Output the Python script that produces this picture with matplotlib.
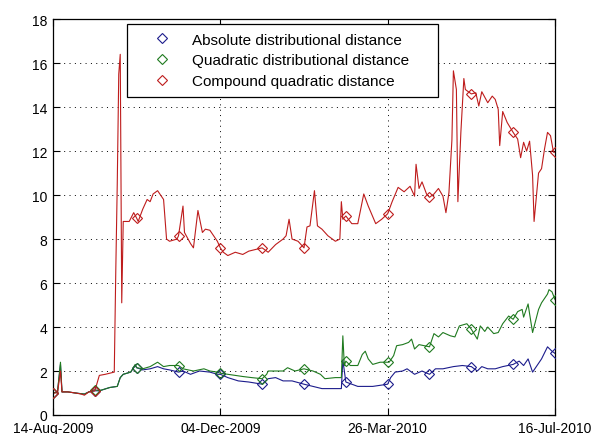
import numpy as np
import matplotlib
matplotlib.use('Agg')
import matplotlib.pyplot as plt

plt.rcParams['font.family'] = ['Liberation Sans', 'DejaVu Sans']

# days counted from 14-Aug-2009
tick_days = [0, 112, 224, 336]
tick_labels = ['14-Aug-2009', '04-Dec-2009', '26-Mar-2010', '16-Jul-2010']
marker_days = np.arange(0, 337, 28)

abs_days = [0, 3, 5, 6, 10, 15, 21, 24, 28, 31, 38, 43, 45, 47, 52, 55, 56, 60, 65, 70,
            74, 78, 84, 87, 92, 98, 105, 110, 112, 117, 124, 131, 140, 144, 149, 154, 160,
            168, 174, 180, 187, 193, 194, 196, 204, 214, 224, 226, 229, 234, 237, 242, 247,
            252, 256, 261, 268, 274, 280, 284, 287, 291, 296, 301, 308, 312, 315, 318, 321,
            324, 327, 331, 334, 336]
abs_vals = [1.0, 1.05, 2.3, 1.05, 1.05, 1.0, 0.95, 1.05, 1.1, 1.1, 1.25, 1.3, 1.7, 1.85,
            1.95, 2.25, 2.15, 2.05, 2.1, 2.2, 2.1, 2.05, 1.95, 2.0, 1.85, 2.0, 1.95, 1.85,
            1.85, 1.7, 1.55, 1.5, 1.4, 1.65, 1.7, 1.55, 1.55, 1.4, 1.3, 1.2, 1.2, 1.2, 2.5,
            1.5, 1.3, 1.3, 1.4, 1.7, 1.95, 2.0, 2.1, 1.85, 2.0, 1.85, 2.1, 2.1, 2.2, 2.25,
            2.2, 2.0, 2.2, 2.1, 2.1, 2.2, 2.3, 2.45, 2.25, 2.55, 1.95, 2.25, 2.55, 3.1, 2.9,
            2.8]

quad_days = [0, 3, 5, 6, 10, 15, 21, 24, 28, 31, 38, 43, 45, 47, 52, 55, 56, 60, 65, 70,
             74, 78, 84, 87, 94, 101, 105, 110, 112, 117, 127, 133, 140, 143, 144, 154, 157,
             162, 168, 174, 179, 182, 189, 193, 194, 195, 196, 199, 204, 207, 209, 211, 214,
             219, 224, 225, 228, 230, 234, 238, 240, 242, 245, 252, 255, 258, 261, 266, 269,
             272, 277, 280, 284, 286, 289, 291, 295, 298, 301, 305, 308, 311, 314, 315, 318,
             319, 321, 325, 327, 331, 332, 334, 336]
quad_vals = [1.0, 1.05, 2.4, 1.05, 1.05, 1.0, 0.95, 1.05, 1.15, 1.1, 1.25, 1.3, 1.7, 1.85,
             1.95, 2.3, 2.15, 2.1, 2.2, 2.4, 2.2, 2.25, 2.25, 2.1, 2.0, 2.1, 2.0, 1.95, 1.9,
             1.85, 1.75, 1.7, 1.65, 1.85, 2.0, 2.0, 2.15, 2.0, 2.1, 2.0, 1.85, 1.65, 1.7, 1.7,
             3.6, 2.25, 2.45, 2.25, 2.25, 2.75, 2.9, 2.55, 2.3, 2.4, 2.4, 2.4, 2.7, 3.15, 3.2,
             3.3, 3.45, 3.0, 3.2, 3.1, 3.7, 3.55, 3.75, 3.6, 3.55, 4.05, 4.15, 3.9, 3.45, 4.05,
             3.8, 4.0, 3.7, 3.75, 4.15, 4.5, 4.35, 4.7, 4.8, 4.45, 5.05, 4.6, 3.75, 4.8, 5.1,
             5.5, 5.7, 5.6, 5.25]

comp_days = [0, 3, 5, 6, 10, 15, 19, 21, 24, 28, 31, 35, 38, 41, 42, 43, 44, 45, 46, 47,
             48, 51, 54, 56, 57, 60, 63, 65, 67, 70, 72, 74, 76, 78, 83, 84, 87, 88, 92, 94,
             97, 100, 102, 105, 107, 110, 112, 114, 117, 122, 127, 131, 137, 140, 144, 149,
             154, 156, 158, 160, 164, 168, 170, 172, 175, 177, 180, 184, 189, 192, 193, 194,
             196, 200, 204, 208, 211, 216, 220, 224, 227, 231, 235, 239, 242, 243, 245, 247,
             250, 252, 255, 258, 261, 263, 265, 267, 268, 270, 271, 273, 275, 276, 280, 283,
             285, 287, 289, 291, 294, 296, 298, 299, 301, 304, 308, 311, 313, 315, 317, 319,
             321, 322, 325, 327, 329, 331, 333, 335, 336]
comp_vals = [1.0, 1.0, 2.0, 1.05, 1.05, 1.0, 0.95, 0.9, 1.05, 1.1, 1.8, 1.85, 1.9, 1.95,
             6.5, 10.5, 15.5, 16.4, 5.1, 8.8, 8.8, 8.8, 9.2, 8.95, 8.8, 9.35, 9.8, 9.7, 10.05,
             10.2, 10.0, 9.8, 8.0, 7.9, 8.0, 8.15, 9.5, 8.3, 7.8, 7.6, 9.3, 8.3, 8.45, 8.4,
             8.2, 7.9, 7.6, 7.4, 7.25, 7.4, 7.3, 7.45, 7.55, 7.6, 7.4, 7.75, 8.0, 8.15, 8.9,
             8.0, 7.9, 7.6, 8.55, 8.6, 10.2, 8.6, 8.45, 8.15, 7.9, 8.0, 9.7, 8.9, 9.05, 8.7,
             8.7, 10.05, 9.5, 8.7, 8.9, 9.15, 9.7, 10.35, 10.15, 10.4, 9.95, 11.4, 10.3, 10.6,
             10.05, 9.9, 10.05, 10.3, 9.95, 9.2, 10.1, 12.5, 15.65, 14.8, 9.7, 12.85, 15.3,
             14.8, 14.6, 14.65, 14.05, 14.7, 14.45, 14.2, 14.5, 14.35, 13.9, 12.25, 13.8, 13.3,
             12.85, 12.55, 11.7, 12.4, 12.0, 12.45, 10.9, 8.8, 11.0, 11.2, 12.1, 12.85, 12.7,
             11.95, 11.95]

series = [
    (abs_days, abs_vals, '#1c1c8c', 'Absolute distributional distance'),
    (quad_days, quad_vals, '#1f7a1f', 'Quadratic distributional distance'),
    (comp_days, comp_vals, '#be1c1c', 'Compound quadratic distance'),
]

fig = plt.figure(figsize=(5.93, 4.35), dpi=100)
ax = fig.add_axes([0.0894, 0.0437, 0.8465, 0.910])

for days, vals, col, label in series:
    days = np.array(days)
    vals = np.array(vals)
    mk = np.isin(days, marker_days)
    ax.plot(days[mk], vals[mk], 'D', mfc='none', mec=col, ms=5.5, mew=0.8,
            label=label, zorder=3)
for days, vals, col, label in series:
    ax.plot(days, vals, '-', color=col, lw=0.8, zorder=2)

ax.set_xlim(0, 336)
ax.set_ylim(0, 18)
ax.set_xticks(tick_days)
ax.set_xticklabels(tick_labels)
ax.set_yticks(np.arange(0, 19, 2))
ax.tick_params(direction='in', length=5, width=0.8, top=True, right=True,
               labelsize=10, pad=4, colors='black')
ax.tick_params(axis='x', pad=4.5)
ax.grid(True, color='black', lw=0.7, linestyle=(0, (1, 4.5)))
for s in ax.spines.values():
    s.set_linewidth(0.9)
    s.set_color('black')

leg = ax.legend(loc='upper left', bbox_to_anchor=(0.147, 0.813, 0.62, 0.174),
                mode='expand', fontsize=11, frameon=True, fancybox=False,
                borderpad=0.54, labelspacing=0.45, handlelength=3.55,
                handletextpad=0.15, borderaxespad=0)
leg.get_frame().set_edgecolor('black')
leg.get_frame().set_linewidth(0.9)
leg.get_frame().set_alpha(1)

fig.savefig('out.png', dpi=100)
